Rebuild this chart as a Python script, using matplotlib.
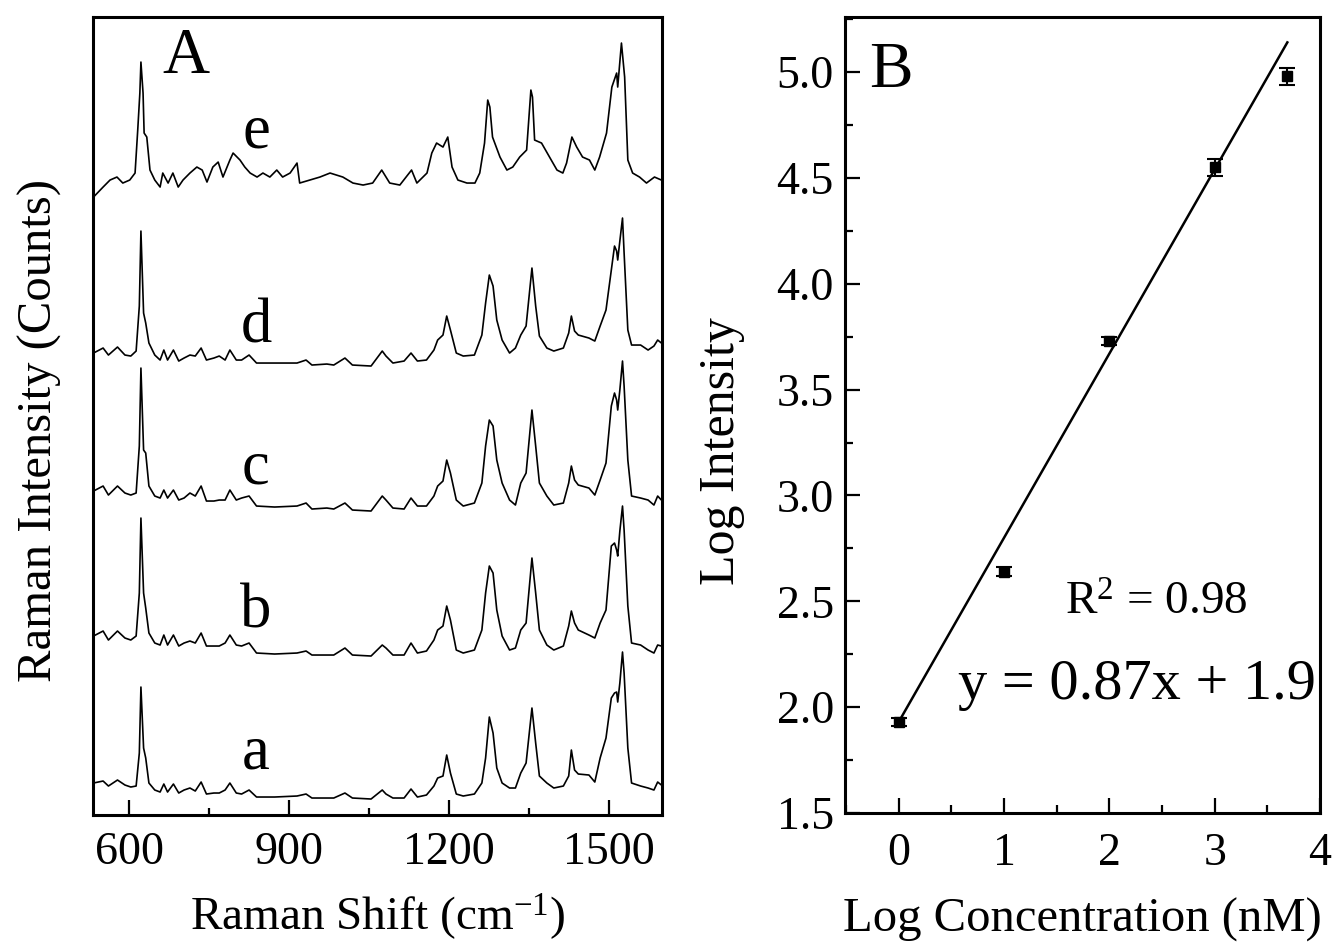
import matplotlib
matplotlib.use("Agg")
import matplotlib.pyplot as plt
from matplotlib.ticker import MultipleLocator

plt.rcParams['font.family'] = ['Liberation Serif', 'DejaVu Serif']
plt.rcParams['mathtext.fontset'] = 'custom'
plt.rcParams['mathtext.rm'] = 'Liberation Serif'
plt.rcParams['mathtext.it'] = 'Liberation Serif:italic'
plt.rcParams['mathtext.bf'] = 'Liberation Serif:bold'

# ---------------- Panel A data (Raman spectra, arbitrary units) ----------------
wavenumber_ad = [533, 551, 561, 578, 592, 603, 613, 619, 622, 627,
                 631, 637, 648, 658, 665, 672, 683, 693, 703, 714,
                 724, 735, 745, 759, 769, 780, 789, 801, 811, 825,
                 839, 873, 915, 932, 943, 971, 984, 1005, 1019, 1054,
                 1075, 1082, 1095, 1116, 1129, 1141, 1158, 1172, 1179, 1189,
                 1196, 1203, 1214, 1227, 1248, 1262, 1269, 1276, 1283, 1290,
                 1300, 1314, 1325, 1335, 1345, 1356, 1363, 1370, 1384, 1397,
                 1415, 1425, 1430, 1436, 1443, 1463, 1474, 1484, 1495, 1505,
                 1511, 1515, 1517, 1521, 1526, 1529, 1536, 1543, 1560, 1574,
                 1585, 1592, 1599]

intensity_a = [15, 17, 12, 18, 13, 11, 12, 45, 111, 50,
               40, 15, 8, 6, 14, 6, 14, 5, 8, 10,
               7, 16, 4, 5, 5, 8, 15, 5, 4, 8,
               1, 1, 2, 4, 0, 0, 0, 5, 0, -1,
               8, 4, 0, 0, 9, 1, 3, 12, 20, 22,
               43, 25, 4, 2, 4, 15, 40, 81, 65, 30,
               15, 10, 10, 25, 35, 90, 55, 22, 15, 10,
               12, 22, 48, 28, 24, 23, 16, 40, 60, 100,
               105, 106, 96, 115, 146, 125, 50, 15, 12, 10,
               8, 16, 13]

intensity_b = [17, 22, 13, 22, 15, 13, 17, 60, 135, 60,
               45, 20, 10, 8, 18, 8, 18, 7, 10, 12,
               10, 20, 7, 7, 7, 10, 18, 8, 7, 10,
               0, -1, 0, 2, -2, -2, -2, 5, -2, -3,
               8, 5, -2, -2, 10, 0, 2, 13, 23, 27,
               47, 33, 3, 0, 3, 23, 60, 87, 80, 43,
               17, 3, 5, 23, 30, 95, 60, 23, 8, 3,
               7, 27, 42, 30, 23, 18, 15, 30, 43, 107,
               110, 103, 97, 122, 147, 123, 47, 10, 8, 3,
               0, 8, 7]

intensity_c = [17, 22, 13, 22, 15, 13, 15, 62, 140, 58,
               55, 22, 12, 10, 18, 10, 18, 8, 10, 15,
               12, 22, 7, 7, 8, 8, 18, 8, 10, 12,
               2, 1, 2, 5, -1, 0, -1, 5, -2, -3,
               12, 8, 0, -1, 10, 2, 2, 12, 22, 27,
               48, 35, 8, 2, 5, 25, 62, 88, 82, 48,
               25, 8, 3, 25, 35, 98, 62, 25, 12, 3,
               5, 25, 42, 28, 23, 20, 13, 28, 45, 102,
               115, 108, 98, 118, 147, 122, 48, 12, 10, 8,
               3, 12, 8]

intensity_d = [10, 15, 8, 16, 8, 7, 12, 57, 132, 50,
               40, 20, 8, 3, 13, 3, 13, 2, 5, 8,
               7, 15, 3, 5, 7, 3, 13, 3, 3, 8,
               0, 0, 0, 3, -2, -1, -2, 5, -2, -3,
               12, 7, 0, 2, 10, 2, 3, 13, 23, 28,
               47, 33, 10, 7, 8, 28, 60, 88, 77, 43,
               23, 10, 15, 28, 37, 95, 57, 27, 15, 12,
               15, 30, 47, 32, 28, 25, 22, 37, 53, 93,
               117, 112, 103, 122, 145, 110, 33, 18, 18, 13,
               17, 23, 20]

wavenumber_e = [533, 551, 564, 577, 588, 601, 611, 616, 620, 622,
                626, 628, 633, 639, 648, 658, 663, 673, 682, 692,
                701, 714, 727, 737, 746, 757, 767, 776, 789, 795,
                808, 817, 827, 840, 851, 864, 877, 888, 902, 915,
                920, 939, 958, 977, 1001, 1020, 1039, 1057, 1074, 1089,
                1108, 1130, 1140, 1159, 1168, 1177, 1189, 1198, 1206, 1217,
                1234, 1249, 1258, 1267, 1273, 1277, 1282, 1296, 1309, 1320,
                1333, 1346, 1354, 1357, 1361, 1374, 1389, 1403, 1414, 1421,
                1431, 1440, 1451, 1464, 1474, 1483, 1496, 1506, 1515, 1517,
                1524, 1530, 1536, 1545, 1558, 1571, 1586, 1599]

intensity_e = [-12, -2, 5, 8, 2, 5, 12, 55, 92, 123,
               92, 52, 48, 15, 5, -2, 12, 2, 12, -2,
               5, 12, 18, 15, 3, 18, 23, 8, 25, 32,
               25, 18, 12, 8, 12, 8, 15, 8, 12, 22,
               2, 5, 8, 12, 8, 2, 0, 2, 15, 2,
               0, 15, 2, 12, 32, 42, 38, 48, 18, 5,
               2, 2, 12, 42, 85, 78, 48, 28, 15, 18,
               28, 35, 95, 88, 45, 42, 28, 15, 12, 22,
               48, 38, 28, 25, 15, 28, 52, 98, 112, 98,
               142, 108, 25, 12, 8, 2, 8, 5]

trace_names = ['a', 'b', 'c', 'd', 'e']
trace_offsets = [17, 162, 307, 452, 630]
label_heights = [47, 188, 332, 473, 668]

# ---------------- Panel B data ----------------
log_conc = [0, 1, 2, 3, 3.69]
log_intensity = [1.93, 2.64, 3.73, 4.55, 4.98]
log_intensity_err = [0.02, 0.02, 0.02, 0.04, 0.04]
fit_slope = 0.87
fit_intercept = 1.93
fit_x_range = [0, 3.69]

# ---------------- Figure ----------------
fig = plt.figure(figsize=(13.34, 9.42), dpi=100)
ax1 = fig.add_axes([0.0697, 0.1348, 0.4265, 0.8471])
ax2 = fig.add_axes([0.6334, 0.1369, 0.3561, 0.8450])

tick_fs = 33
label_fs = 35
spine_w = 2.2

# Panel A
series = [(wavenumber_ad, intensity_a), (wavenumber_ad, intensity_b),
          (wavenumber_ad, intensity_c), (wavenumber_ad, intensity_d),
          (wavenumber_e, intensity_e)]
for (wn, inten), off, name, lh in zip(series, trace_offsets, trace_names, label_heights):
    ax1.plot(wn, [v + off for v in inten], color='black', lw=1.2)
    ax1.text(838, lh, name, fontsize=45, ha='center', va='baseline')

ax1.text(706, 742, 'A', fontsize=47, ha='center', va='baseline')
ax1.set_xlim(532, 1600)
ax1.set_ylim(0, 798)
ax1.xaxis.set_major_locator(MultipleLocator(300))
ax1.xaxis.set_minor_locator(MultipleLocator(150))
ax1.set_yticks([])
ax1.tick_params(axis='x', which='both', direction='in', top=False, width=1.6,
                labelsize=tick_fs, pad=12)
ax1.tick_params(axis='x', which='major', length=11)
ax1.tick_params(axis='x', which='minor', length=5)
ax1.set_xlabel(r'Raman Shift (cm$^{\mathrm{-1}}$)', fontsize=34)
ax1.set_ylabel('Raman Intensity (Counts)', fontsize=label_fs)
ax1.xaxis.set_label_coords(0.5, -0.095)
ax1.yaxis.set_label_coords(-0.054, 0.482)
for s in ax1.spines.values():
    s.set_linewidth(spine_w)

# Panel B
ax2.errorbar(log_conc, log_intensity, yerr=log_intensity_err, fmt='s',
             color='black', ms=7, capsize=6, elinewidth=1.5, capthick=1.5)
fx = fit_x_range
ax2.plot(fx, [fit_slope * v + fit_intercept for v in fx], color='black', lw=1.8)
ax2.text(-0.07, 4.93, 'B', fontsize=47, ha='center', va='baseline')
ax2.text(1.58, 2.436, r'R$^{2}$ = 0.98', fontsize=34, ha='left', va='baseline')
ax2.text(0.56, 2.037, 'y = 0.87x + 1.9', fontsize=42, ha='left', va='baseline')
ax2.set_xlim(-0.51, 4.0)
ax2.set_ylim(1.5, 5.26)
ax2.xaxis.set_major_locator(MultipleLocator(1))
ax2.xaxis.set_minor_locator(MultipleLocator(0.5))
ax2.yaxis.set_major_locator(MultipleLocator(0.5))
ax2.yaxis.set_minor_locator(MultipleLocator(0.25))
ax2.tick_params(axis='both', which='both', direction='in', top=False, right=False,
                width=1.6, labelsize=tick_fs)
ax2.tick_params(axis='x', which='both', pad=14)
ax2.tick_params(axis='y', which='both', pad=8)
ax2.tick_params(axis='both', which='major', length=11)
ax2.tick_params(axis='both', which='minor', length=6)
ax2.set_xlabel('Log Concentration (nM)', fontsize=label_fs)
ax2.set_ylabel('Log Intensity', fontsize=36)
ax2.xaxis.set_label_coords(0.5, -0.106)
ax2.yaxis.set_label_coords(-0.211, 0.455)
for s in ax2.spines.values():
    s.set_linewidth(spine_w)

fig.savefig('out.png', dpi=100)
